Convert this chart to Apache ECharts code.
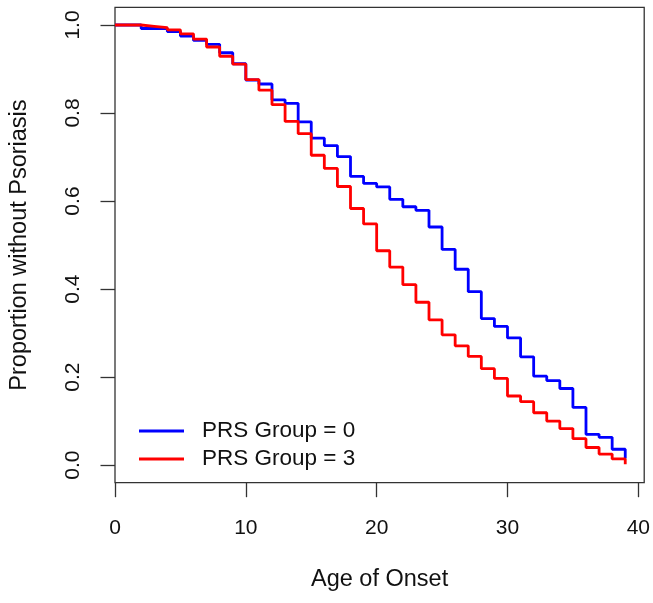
<!DOCTYPE html>
<html>
<head>
<meta charset="utf-8">
<script src="https://cdn.jsdelivr.net/npm/echarts@6/dist/echarts.min.js"></script>
<style>
html,body{margin:0;padding:0;background:#fff;}
#chart{width:653px;height:603px;}
</style>
</head>
<body>
<div id="chart"></div>
<script>
// ---- data ----
const ages = [0,1,2,3,4,5,6,7,8,9,10,11,12,13,14,15,16,17,18,19,20,21,22,23,24,25,26,27,28,29,30,31,32,33,34,35,36,37,38,39];
const group0 = [1.0,1.0,0.992,0.992,0.985,0.975,0.965,0.956,0.937,0.912,0.875,0.866,0.830,0.822,0.780,0.743,0.726,0.701,0.656,0.640,0.632,0.604,0.587,0.579,0.541,0.490,0.445,0.394,0.333,0.315,0.289,0.246,0.202,0.192,0.174,0.131,0.070,0.063,0.036,0.015];
const group3 = [1.0,1.0,0.997,0.994,0.989,0.980,0.968,0.950,0.929,0.911,0.876,0.852,0.819,0.781,0.753,0.704,0.674,0.633,0.583,0.548,0.487,0.450,0.410,0.370,0.330,0.296,0.271,0.247,0.219,0.197,0.157,0.144,0.119,0.100,0.083,0.060,0.040,0.025,0.014,0.002];
const xTicks = [0,10,20,30,40];
const yTicks = [0,0.2,0.4,0.6,0.8,1.0];
const seriesNames = ['PRS Group = 0','PRS Group = 3'];
const xTitle = 'Age of Onset';
const yTitle = 'Proportion without Psoriasis';

const font = '"Liberation Sans", Arial, sans-serif';
const axisColor = '#333';
const textColor = '#111';

const chart = echarts.init(document.getElementById('chart'), null, {renderer:'canvas'});
chart.setOption({
  animation:false,
  backgroundColor:'#fff',
  textStyle:{fontFamily:font},
  grid:{left:114.5, right:8, top:7.4, bottom:120.3, show:true, borderColor:axisColor, borderWidth:1.3, containLabel:false},
  legend:{
    orient:'vertical', left:134, top:414.5,
    icon:'rect', itemWidth:45, itemHeight:3, itemGap:5,
    textStyle:{fontSize:22.5, color:textColor, fontFamily:font, lineHeight:23, padding:[0,0,0,13]},
    data:seriesNames
  },
  xAxis:{
    type:'value', min:0, max:40.45,
    name:xTitle, nameLocation:'middle', nameGap:85,
    nameTextStyle:{fontSize:23.5, color:textColor, fontFamily:font},
    axisLine:{show:false, onZero:false},
    splitLine:{show:false},
    axisTick:{show:true, length:14.5, inside:false, customValues:xTicks, lineStyle:{color:axisColor, width:1.3}},
    axisLabel:{customValues:xTicks, fontSize:21, color:textColor, margin:35, fontFamily:font}
  },
  yAxis:{
    type:'value', min:-0.04, max:1.04,
    name:yTitle, nameLocation:'middle', nameGap:83, nameRotate:90,
    nameTextStyle:{fontSize:23.5, color:textColor, fontFamily:font},
    axisLine:{show:false, onZero:false},
    splitLine:{show:false},
    axisTick:{show:true, length:14.5, inside:false, customValues:yTicks, lineStyle:{color:axisColor, width:1.3}},
    axisLabel:{customValues:yTicks, rotate:90, fontSize:21, color:textColor, margin:31, fontFamily:font,
      formatter:function(v){return v.toFixed(1);}}
  },
  series:[
    {name:seriesNames[0], type:'line', step:'end', showSymbol:false, symbol:'none',
     lineStyle:{color:'#0000FF', width:2.8}, itemStyle:{color:'#0000FF'},
     data:ages.map((a,i)=>[a,group0[i]])},
    {name:seriesNames[1], type:'line', step:'end', showSymbol:false, symbol:'none',
     lineStyle:{color:'#FF0000', width:2.8}, itemStyle:{color:'#FF0000'},
     data:ages.map((a,i)=>[a,group3[i]])}
  ]
});
</script>
</body>
</html>
